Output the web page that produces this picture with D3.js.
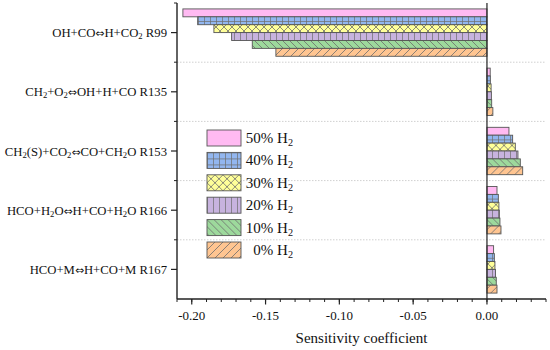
<!DOCTYPE html>
<html>
<head>
<meta charset="utf-8">
<script src="https://cdn.jsdelivr.net/npm/d3@7"></script>
<style>
  body { margin: 0; background: #fff; }
  svg { font-family: "Liberation Serif", "Times New Roman", serif; }
</style>
</head>
<body>
<svg id="chart" width="550" height="350"></svg>
<script>
// reactions (use _ before a digit for subscripts)
const categories = [
  "OH+CO⇔H+CO_2 R99",
  "CH_2+O_2⇔OH+H+CO R135",
  "CH_2(S)+CO_2⇔CO+CH_2O R153",
  "HCO+H_2O⇔H+CO+H_2O R166",
  "HCO+M⇔H+CO+M R167"
];
const seriesNames = ["50% H_2", "40% H_2", "30% H_2", "20% H_2", "10% H_2", "0% H_2"];
const h2_50 = [-0.206, 0.0022, 0.0149, 0.0068, 0.0045];
const h2_40 = [-0.196, 0.0023, 0.0174, 0.0077, 0.0050];
const h2_30 = [-0.185, 0.0028, 0.0192, 0.0081, 0.0054];
const h2_20 = [-0.173, 0.0030, 0.0210, 0.0084, 0.0058];
const h2_10 = [-0.159, 0.0032, 0.0226, 0.0088, 0.0063];
const h2_0  = [-0.143, 0.0040, 0.0242, 0.0095, 0.0068];
const seriesValues = [h2_50, h2_40, h2_30, h2_20, h2_10, h2_0];
const xTicks = [-0.20, -0.15, -0.10, -0.05, 0.00];

const svg = d3.select('#chart');
const margin = { left: 177, right: 4, top: 3, bottom: 51 };
const width = 550, height = 350;

const x = d3.scaleLinear().domain([-0.21, 0.04]).range([margin.left, width - margin.right]);
const y0 = d3.scaleBand().domain(categories).range([margin.top, height - margin.bottom]).padding(0);
const y1 = d3.scaleBand().domain(seriesNames)
  .range([y0.bandwidth() * 0.1, y0.bandwidth() * 0.9]).padding(0);

// fills / hatch patterns
const defs = svg.append('defs');
function pattern(id, bg, size, paths) {
  const p = defs.append('pattern').attr('id', id)
    .attr('patternUnits', 'userSpaceOnUse').attr('width', size).attr('height', size);
  p.append('rect').attr('width', size).attr('height', size).attr('fill', bg);
  paths.forEach(d => p.append('path').attr('d', d)
    .attr('stroke', '#6d6d6d').attr('stroke-width', 0.8).attr('fill', 'none'));
}
pattern('p50', '#ffbaf2', 6, []);
pattern('p40', '#92b6ef', 6, ['M0,0.4H6', 'M0.4,0V6']);
pattern('p30', '#ffff99', 8, ['M0,0L8,8', 'M8,0L0,8']);
pattern('p20', '#c7b3de', 6, ['M0.4,0V6']);
pattern('p10', '#9dd99c', 7, ['M0,0L7,7', 'M-1,6L1,8', 'M6,-1L8,1']);
pattern('p0', '#ffc591', 8, ['M0,8L8,0', 'M-1,1L1,-1', 'M7,9L9,7']);
const fills = ['url(#p50)', 'url(#p40)', 'url(#p30)', 'url(#p20)', 'url(#p10)', 'url(#p0)'];

// text with subscripts and the double arrow
function richText(sel, str) {
  str.split(/(_\d|⇔)/).forEach(part => {
    if (!part) return;
    if (part[0] === '_') {
      sel.append('tspan').attr('baseline-shift', '-25%').attr('font-size', '0.68em').text(part.slice(1));
    } else if (part === '⇔') {
      sel.append('tspan').attr('font-family', 'DejaVu Sans').attr('font-size', '0.85em').text(part);
    } else {
      sel.append('tspan').text(part);
    }
  });
}

// dotted separators between groups
const bounds = categories.slice(1).map(c => y0(c));
svg.append('g').selectAll('line').data(bounds).enter().append('line')
  .attr('x1', margin.left).attr('x2', width - margin.right)
  .attr('y1', d => d).attr('y2', d => d)
  .attr('stroke', '#d0d0d0').attr('stroke-width', 1).attr('stroke-dasharray', '1.5,1.5');

// bars
const groups = svg.append('g').selectAll('g').data(categories).enter().append('g')
  .attr('transform', d => `translate(0,${y0(d)})`);
groups.selectAll('rect')
  .data((c, ci) => seriesNames.map((s, si) => ({ s, si, v: seriesValues[si][ci] })))
  .enter().append('rect')
  .attr('x', d => x(Math.min(0, d.v)))
  .attr('y', d => y1(d.s))
  .attr('width', d => Math.abs(x(d.v) - x(0)))
  .attr('height', y1.bandwidth())
  .attr('fill', d => fills[d.si])
  .attr('stroke', '#555').attr('stroke-width', 0.9);

// zero line
svg.append('line').attr('x1', x(0)).attr('x2', x(0))
  .attr('y1', margin.top).attr('y2', height - margin.bottom)
  .attr('stroke', '#222').attr('stroke-width', 1.2);

// x axis
const xAxisY = height - margin.bottom;
const gx = svg.append('g').attr('transform', `translate(0,${xAxisY})`);
gx.append('line').attr('x1', margin.left).attr('x2', width - margin.right)
  .attr('stroke', '#222').attr('stroke-width', 1.4);
const minor = d3.range(-0.21, 0.0401, 0.01);
gx.selectAll('.mt').data(minor).enter().append('line')
  .attr('x1', d => x(d)).attr('x2', d => x(d)).attr('y1', 0).attr('y2', 3)
  .attr('stroke', '#222').attr('stroke-width', 1);
gx.selectAll('.Mt').data(xTicks).enter().append('line')
  .attr('x1', d => x(d)).attr('x2', d => x(d)).attr('y1', 0).attr('y2', 5.5)
  .attr('stroke', '#222').attr('stroke-width', 1.2);
gx.selectAll('text').data(xTicks).enter().append('text')
  .attr('x', d => x(d)).attr('y', 21).attr('text-anchor', 'middle')
  .attr('font-size', 13).attr('fill', '#111')
  .text(d => d3.format('.2f')(d).replace('−', '-'));
svg.append('text').attr('x', (margin.left + width - margin.right) / 2).attr('y', 343)
  .attr('text-anchor', 'middle').attr('font-size', 15).attr('fill', '#111')
  .text('Sensitivity coefficient');

// y axis
const gy = svg.append('g');
gy.append('line').attr('x1', margin.left).attr('x2', margin.left)
  .attr('y1', margin.top).attr('y2', xAxisY).attr('stroke', '#222').attr('stroke-width', 1.4);
gy.selectAll('.mt').data([margin.top, ...bounds]).enter().append('line')
  .attr('x1', margin.left - 3).attr('x2', margin.left).attr('y1', d => d).attr('y2', d => d)
  .attr('stroke', '#222').attr('stroke-width', 1);
gy.selectAll('.Mt').data(categories).enter().append('line')
  .attr('x1', margin.left - 6).attr('x2', margin.left)
  .attr('y1', d => y0(d) + y0.bandwidth() / 2).attr('y2', d => y0(d) + y0.bandwidth() / 2)
  .attr('stroke', '#222').attr('stroke-width', 1.2);
gy.selectAll('text').data(categories).enter().append('text')
  .attr('x', margin.left - 10).attr('y', d => y0(d) + y0.bandwidth() / 2 + 4.5)
  .attr('text-anchor', 'end').attr('font-size', 12.7).attr('fill', '#111')
  .each(function (d) { richText(d3.select(this), d); });

// legend
const legend = svg.append('g').attr('transform', 'translate(207,130)');
const li = legend.selectAll('g').data(seriesNames).enter().append('g')
  .attr('transform', (d, i) => `translate(0,${i * 22.4})`);
li.append('rect').attr('width', 34).attr('height', 16)
  .attr('fill', (d, i) => fills[i]).attr('stroke', '#555').attr('stroke-width', 0.9);
li.append('text').attr('x', 86).attr('y', 13).attr('text-anchor', 'end')
  .attr('font-size', 15).attr('fill', '#111')
  .each(function (d) { richText(d3.select(this), d); });
</script>
</body>
</html>
